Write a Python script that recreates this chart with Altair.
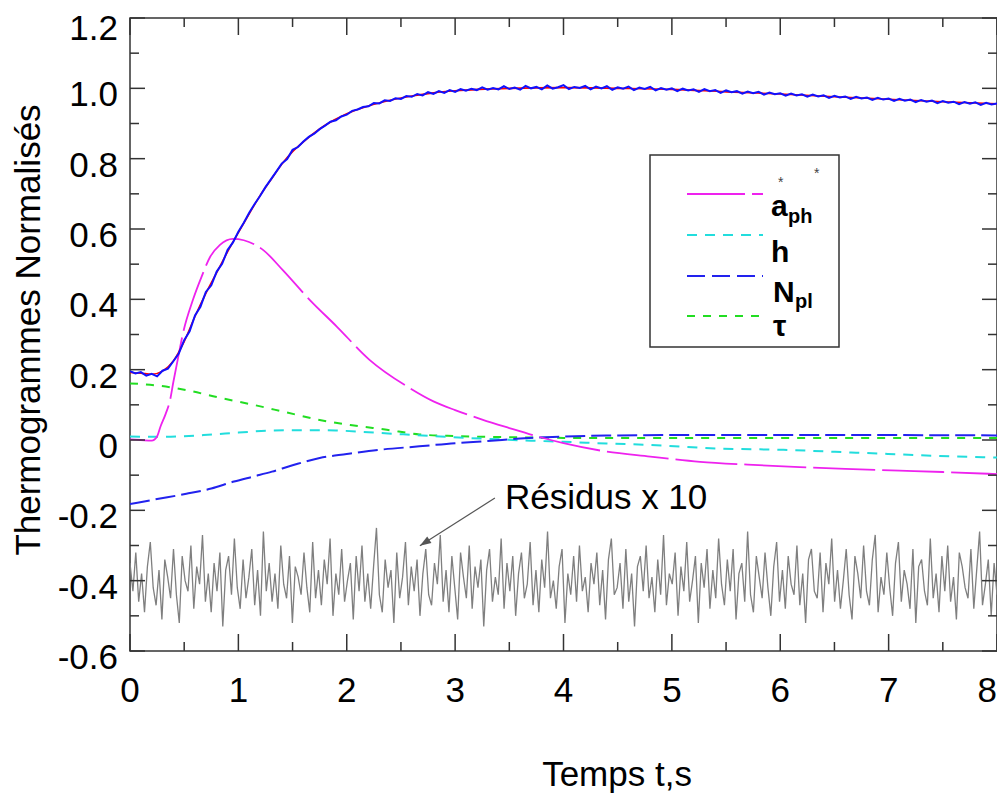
import altair as alt
import numpy as np
import pandas as pd

W, H = 867, 633
FONT = "Liberation Sans"

# ---------------- axis ticks and labels ----------------
x_major = [0, 1, 2, 3, 4, 5, 6, 7, 8]
x_labels = ["0", "1", "2", "3", "4", "5", "6", "7", "8"]
x_minor = [0.5, 1.5, 2.5, 3.5, 4.5, 5.5, 6.5, 7.5]
y_major = [-0.6, -0.4, -0.2, 0.0, 0.2, 0.4, 0.6, 0.8, 1.0, 1.2]
y_labels = ["-0.6", "-0.4", "-0.2", "0", "0.2", "0.4", "0.6", "0.8", "1.0", "1.2"]
y_minor = [-0.5, -0.3, -0.1, 0.1, 0.3, 0.5, 0.7, 0.9, 1.1]
x_title = "Temps t,s"
y_title = "Thermogrammes Normalisés"

# ---------------- measured thermogram (noisy), every 0.05 s ----------------
meas_t = [round(i * 0.05, 2) for i in range(161)]
meas_v = [
    0.196, 0.189, 0.193, 0.183, 0.188, 0.181, 0.197, 0.203, 0.224, 0.246,
    0.284, 0.309, 0.354, 0.379, 0.421, 0.440, 0.479, 0.501, 0.540, 0.562,
    0.592, 0.618, 0.646, 0.671, 0.694, 0.719, 0.741, 0.763, 0.786, 0.799,
    0.825, 0.833, 0.849, 0.862, 0.871, 0.884, 0.894, 0.905, 0.909, 0.920,
    0.925, 0.936, 0.940, 0.947, 0.949, 0.958, 0.957, 0.966, 0.964, 0.972,
    0.970, 0.978, 0.976, 0.984, 0.980, 0.989, 0.984, 0.992, 0.987, 0.995,
    0.990, 0.998, 0.993, 0.999, 0.995, 1.003, 0.996, 1.001, 0.997, 1.006,
    0.998, 1.002, 0.996, 1.007, 1.000, 1.004, 0.997, 1.008, 0.999, 1.003,
    1.009, 0.998, 1.004, 1.001, 1.007, 0.997, 1.005, 1.000, 1.006, 0.996,
    1.003, 0.999, 1.005, 0.995, 1.002, 0.998, 1.004, 0.994, 1.001, 0.996,
    1.000, 0.992, 0.999, 0.994, 0.997, 0.990, 0.998, 0.992, 0.995, 0.987,
    0.994, 0.989, 0.992, 0.985, 0.991, 0.986, 0.990, 0.982, 0.988, 0.983,
    0.986, 0.979, 0.985, 0.980, 0.983, 0.976, 0.982, 0.977, 0.980, 0.973,
    0.979, 0.974, 0.977, 0.970, 0.976, 0.971, 0.974, 0.967, 0.973, 0.968,
    0.971, 0.964, 0.970, 0.965, 0.968, 0.961, 0.967, 0.962, 0.965, 0.958,
    0.964, 0.959, 0.962, 0.955, 0.961, 0.956, 0.960, 0.953, 0.959, 0.954,
    0.957,
]

# ---------------- fitted thermogram (smooth, red) ----------------
fit_t = [0, 0.1, 0.2, 0.3, 0.4, 0.5, 0.6, 0.7, 0.8, 0.9, 1.0, 1.1, 1.2, 1.3,
         1.4, 1.5, 1.6, 1.8, 2.0, 2.2, 2.4, 2.6, 2.8, 3.0, 3.5, 4.0, 4.5, 5.0,
         5.5, 6.0, 6.5, 7.0, 7.5, 8.0]
fit_v = [0.192, 0.190, 0.187, 0.196, 0.225, 0.280, 0.352, 0.417, 0.476, 0.535,
         0.590, 0.643, 0.695, 0.740, 0.784, 0.820, 0.848, 0.895, 0.928, 0.950,
         0.966, 0.978, 0.987, 0.993, 1.000, 1.002, 1.000, 0.997, 0.990, 0.984,
         0.976, 0.969, 0.962, 0.956]

# ---------------- residuals x 10 (offset) ----------------
res_v = [
    -0.35, -0.43, -0.32, -0.46, -0.38, -0.49, -0.36, -0.29, -0.42, -0.47, -0.37, -0.51, -0.34, -0.39, -0.45, -0.31, -0.44, -0.52, -0.33, -0.40,
    -0.43, -0.30, -0.48, -0.36, -0.41, -0.27, -0.46, -0.38, -0.49, -0.35, -0.43, -0.32, -0.53, -0.37, -0.33, -0.44, -0.28, -0.42, -0.48, -0.34,
    -0.45, -0.39, -0.31, -0.47, -0.37, -0.50, -0.26, -0.43, -0.35, -0.46, -0.38, -0.48, -0.30, -0.41, -0.45, -0.33, -0.52, -0.36, -0.39, -0.44,
    -0.32, -0.42, -0.49, -0.29, -0.45, -0.37, -0.47, -0.34, -0.41, -0.28, -0.50, -0.38, -0.44, -0.31, -0.46, -0.40, -0.35, -0.51, -0.33, -0.43,
    -0.30, -0.46, -0.38, -0.48, -0.36, -0.25, -0.44, -0.49, -0.34, -0.42, -0.37, -0.52, -0.32, -0.45, -0.39, -0.29, -0.47, -0.36, -0.43, -0.34,
    -0.50, -0.38, -0.31, -0.44, -0.47, -0.35, -0.41, -0.27, -0.46, -0.37, -0.49, -0.33, -0.42, -0.51, -0.32, -0.39, -0.45, -0.30, -0.48, -0.36,
    -0.42, -0.34, -0.53, -0.37, -0.31, -0.46, -0.39, -0.44, -0.28, -0.48, -0.35, -0.43, -0.33, -0.50, -0.38, -0.32, -0.45, -0.41, -0.29, -0.47,
    -0.37, -0.49, -0.34, -0.42, -0.26, -0.45, -0.40, -0.48, -0.36, -0.31, -0.52, -0.38, -0.44, -0.33, -0.46, -0.30, -0.43, -0.39, -0.49, -0.35,
    -0.41, -0.32, -0.47, -0.37, -0.51, -0.34, -0.28, -0.44, -0.42, -0.35, -0.48, -0.31, -0.46, -0.38, -0.53, -0.36, -0.33, -0.43, -0.30, -0.45,
    -0.39, -0.49, -0.34, -0.44, -0.27, -0.47, -0.38, -0.41, -0.32, -0.50, -0.36, -0.43, -0.29, -0.46, -0.40, -0.33, -0.52, -0.35, -0.42, -0.31,
    -0.48, -0.37, -0.45, -0.28, -0.41, -0.47, -0.34, -0.43, -0.31, -0.51, -0.38, -0.35, -0.46, -0.26, -0.44, -0.49, -0.33, -0.39, -0.45, -0.32,
    -0.42, -0.50, -0.36, -0.29, -0.46, -0.37, -0.48, -0.33, -0.41, -0.44, -0.30, -0.47, -0.38, -0.52, -0.34, -0.31, -0.43, -0.45, -0.32, -0.49,
    -0.35, -0.41, -0.28, -0.46, -0.37, -0.48, -0.40, -0.31, -0.44, -0.51, -0.33, -0.38, -0.45, -0.30, -0.43, -0.47, -0.34, -0.27, -0.49, -0.39,
    -0.44, -0.32, -0.42, -0.50, -0.35, -0.29, -0.46, -0.37, -0.41, -0.48, -0.31, -0.52, -0.36, -0.34, -0.43, -0.47, -0.28, -0.45, -0.38, -0.49,
    -0.33, -0.43, -0.30, -0.46, -0.39, -0.51, -0.32, -0.36, -0.42, -0.45, -0.31, -0.48, -0.37, -0.26, -0.47, -0.41, -0.34, -0.50, -0.35, -0.44,
]
res_t = [round(v, 4) for v in np.linspace(0, 8, len(res_v))]

# ---------------- sensitivity curves ----------------
aph_t = [0, 0.1, 0.2, 0.25, 0.28, 0.33, 0.37, 0.4, 0.44, 0.49, 0.58, 0.66, 0.74,
         0.83, 0.95, 1.05, 1.23, 1.41, 1.66, 1.91, 2.21, 2.58, 2.8, 3.0, 3.25,
         3.5, 3.75, 4.0, 4.34, 4.8, 5.26, 5.7, 6.18, 6.6, 7.1, 7.5, 8.0]
aph_v = [0.002, 0.0, -0.002, 0.01, 0.037, 0.075, 0.114, 0.165, 0.228, 0.305,
         0.398, 0.464, 0.521, 0.555, 0.572, 0.568, 0.540, 0.483, 0.398, 0.322,
         0.228, 0.148, 0.110, 0.085, 0.058, 0.034, 0.011, -0.009, -0.030,
         -0.047, -0.062, -0.070, -0.077, -0.082, -0.087, -0.091, -0.097]

h_t = [0, 0.31, 0.68, 1.0, 1.29, 1.6, 1.9, 2.2, 2.52, 2.8, 3.1, 3.4, 3.7, 4.0,
       4.4, 4.8, 5.41, 6.03, 6.7, 7.26, 7.87, 8.0]
h_v = [0.010, 0.009, 0.014, 0.021, 0.027, 0.028, 0.027, 0.022, 0.016, 0.011,
       0.006, 0.002, -0.002, -0.005, -0.010, -0.014, -0.024, -0.028, -0.036,
       -0.043, -0.049, -0.050]

npl_t = [0, 0.25, 0.52, 0.75, 0.96, 1.15, 1.31, 1.5, 1.75, 2.0, 2.3, 2.67, 3.0,
         3.3, 3.6, 4.0, 4.5, 5.0, 6.0, 7.0, 8.0]
npl_v = [-0.182, -0.168, -0.153, -0.138, -0.118, -0.103, -0.090, -0.072,
         -0.051, -0.040, -0.028, -0.018, -0.009, -0.003, 0.004, 0.010, 0.013,
         0.014, 0.014, 0.014, 0.013]

tau_t = [0, 0.25, 0.52, 0.8, 1.14, 1.45, 1.75, 2.05, 2.37, 2.67, 3.0, 3.5, 4.0,
         5.0, 6.0, 7.0, 8.0]
tau_v = [0.161, 0.155, 0.142, 0.122, 0.100, 0.078, 0.057, 0.042, 0.029, 0.016,
         0.011, 0.008, 0.006, 0.006, 0.006, 0.006, 0.006]

# annotation
annot_text = "Résidus x 10"
annot_pos = (3.46, -0.196)
arrow_from = (3.367, -0.165)
arrow_to = (2.675, -0.301)

# ---------------- building ----------------
xs = alt.Scale(domain=[0, 8], nice=False, zero=False)
ys = alt.Scale(domain=[-0.6, 1.2], nice=False, zero=False)
X = lambda f="t": alt.X(f"{f}:Q", scale=xs, axis=None)
Y = lambda f="v": alt.Y(f"{f}:Q", scale=ys, axis=None)


def line(t, v, color, width, dash=None, interp="linear"):
    kw = dict(color=color, strokeWidth=width, interpolate=interp, clip=True)
    if dash:
        kw["strokeDash"] = dash
    df = pd.DataFrame({"t": t, "v": v})
    return alt.Chart(df).mark_line(**kw).encode(x=X(), y=Y())


layers = []
layers.append(line(res_t, res_v, "#7f7f7f", 1.3))
layers.append(line(tau_t, tau_v, "#22dd22", 2, dash=[8, 8], interp="monotone"))
layers.append(line(h_t, h_v, "#22dddd", 2, dash=[10, 8], interp="monotone"))
layers.append(line(npl_t, npl_v, "#2222ee", 2, dash=[20, 6], interp="monotone"))
layers.append(line(aph_t, aph_v, "#ee22ee", 1.8, dash=[62, 7], interp="monotone"))
layers.append(line(fit_t, fit_v, "#ff0000", 1.6, interp="monotone"))
layers.append(line(meas_t, meas_v, "#1010ff", 2))

# annotation
one = pd.DataFrame({"k": [0]})
arrow_df = pd.DataFrame({"t": [arrow_from[0]], "v": [arrow_from[1]],
                         "t2": [arrow_to[0]], "v2": [arrow_to[1]]})
layers.append(alt.Chart(arrow_df).mark_rule(color="#555555", strokeWidth=1.2).encode(
    x=X(), y=Y(), x2="t2:Q", y2="v2:Q"))
head_df = pd.DataFrame({"t": [arrow_to[0]], "v": [arrow_to[1]]})
layers.append(alt.Chart(head_df).mark_point(
    shape="M0,0L-0.45,1.3L0.45,1.3Z", size=300, angle=237, filled=True,
    color="#555555", opacity=1).encode(x=X(), y=Y()))
annot_df = pd.DataFrame({"t": [annot_pos[0]], "v": [annot_pos[1]], "s": [annot_text]})
layers.append(alt.Chart(annot_df).mark_text(
    align="left", baseline="alphabetic", fontSize=35, font=FONT, color="black").encode(
    x=X(), y=Y(), text="s:N"))

# inward ticks on the four sides
TK = "#333333"


def xticks(vals, y0, y1):
    return alt.Chart(pd.DataFrame({"t": vals})).mark_rule(color=TK, strokeWidth=1.5).encode(
        x=X(), y=alt.value(y0), y2=alt.value(y1))


def yticks(vals, x0, x1):
    return alt.Chart(pd.DataFrame({"v": vals})).mark_rule(color=TK, strokeWidth=1.5).encode(
        y=Y(), x=alt.value(x0), x2=alt.value(x1))


layers += [
    xticks(x_major, H, H - 17), xticks(x_minor, H, H - 9),
    xticks(x_major, 0, 17), xticks(x_minor, 0, 9),
    yticks(y_major, 0, 15), yticks(y_minor, 0, 9),
    yticks(y_major, W, W - 15), yticks(y_minor, W, W - 9),
]

# tick labels and axis titles
xl = pd.DataFrame({"t": x_major, "s": x_labels})
layers.append(alt.Chart(xl.iloc[:-1]).mark_text(
    align="center", baseline="alphabetic", fontSize=35, font=FONT, color="black").encode(
    x=X(), y=alt.value(H + 51), text="s:N"))
layers.append(alt.Chart(xl.iloc[-1:]).mark_text(
    align="right", baseline="alphabetic", fontSize=35, font=FONT, color="black").encode(
    x=X(), y=alt.value(H + 51), text="s:N"))
yl = pd.DataFrame({"v": y_major, "s": y_labels})
layers.append(alt.Chart(yl.iloc[:-1]).mark_text(
    align="right", baseline="alphabetic", fontSize=35, font=FONT, color="black", dy=18).encode(
    y=Y(), x=alt.value(-12), text="s:N"))
layers.append(alt.Chart(yl.iloc[-1:]).mark_text(
    align="right", baseline="alphabetic", fontSize=35, font=FONT, color="black", dy=22).encode(
    y=Y(), x=alt.value(-12), text="s:N"))
layers.append(alt.Chart(one).mark_text(
    text=x_title, align="center", baseline="alphabetic", fontSize=35, font=FONT,
    color="black").encode(x=alt.value(487), y=alt.value(768)))
layers.append(alt.Chart(one).mark_text(
    text=y_title, align="center", baseline="alphabetic", fontSize=35, font=FONT,
    color="black", angle=270).encode(x=alt.value(-90), y=alt.value(312)))

# legend (drawn box)
layers.append(alt.Chart(one).mark_rect(fill="white", stroke="#333333", strokeWidth=1.5).encode(
    x=alt.value(520), x2=alt.value(709), y=alt.value(137), y2=alt.value(329)))


def leg_line(y, color, dash):
    return alt.Chart(one).mark_rule(color=color, strokeWidth=2, strokeDash=dash).encode(
        x=alt.value(557), x2=alt.value(633), y=alt.value(y))


layers += [
    leg_line(176, "#ee22ee", [58, 7]),
    leg_line(217, "#22dddd", [10, 8]),
    leg_line(258, "#2222ee", [18, 7]),
    leg_line(298, "#22dd22", [8, 8]),
]


def txt(s, x, y, size, weight="bold", color="black"):
    return alt.Chart(one).mark_text(
        text=s, align="left", baseline="alphabetic", fontSize=size,
        fontWeight=weight, font=FONT, color=color).encode(
        x=alt.value(x), y=alt.value(y))


layers += [
    txt("a", 641, 198, 30),
    txt("ph", 658, 205, 20),
    txt("*", 648, 169, 14, "normal", "#444444"),
    txt("*", 684, 160, 14, "normal", "#444444"),
    txt("h", 641, 244, 30),
    txt("N", 643, 284, 30),
    txt("pl", 665, 290, 20),
    txt("τ", 643, 318, 30),
]

chart = alt.layer(*layers).properties(
    width=W, height=H,
    autosize=alt.AutoSizeParams(type="none"),
    padding={"left": 122, "top": 10, "right": 0, "bottom": 143},
    background="white",
).configure_view(stroke="#333333", strokeWidth=1.5)

chart.save("out.html", embed_options={"renderer": "svg", "actions": False})
